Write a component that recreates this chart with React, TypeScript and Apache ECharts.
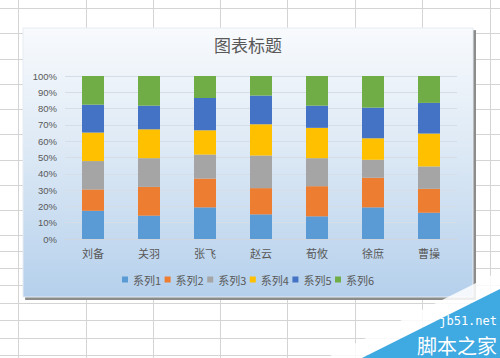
import React, { useEffect, useRef } from "react";
import * as echarts from "echarts";

const categories = ["刘备", "关羽", "张飞", "赵云", "荀攸", "徐庶", "曹操"];
const seriesNames = ["系列1", "系列2", "系列3", "系列4", "系列5", "系列6"];
const series1 = [17.3, 14.3, 19.4, 15.1, 13.9, 19.4, 16.1];
const series2 = [13.1, 17.7, 17.7, 16.1, 18.5, 18.2, 14.7];
const series3 = [17.4, 17.6, 14.7, 20.0, 17.2, 11.0, 13.7];
const series4 = [17.5, 17.7, 14.9, 19.2, 18.6, 13.2, 20.2];
const series5 = [17.1, 14.5, 19.8, 17.6, 13.6, 18.8, 18.8];
const series6 = [17.6, 18.2, 13.5, 12.0, 18.2, 19.4, 16.5];
const seriesValues = [series1, series2, series3, series4, series5, series6];
const colors = ["#5B9BD5", "#ED7D31", "#A5A5A5", "#FFC000", "#4472C4", "#70AD47"];

// Spreadsheet background decoration (layout only)
const sheetCols = [18, 86, 153, 220, 287, 355, 422, 490];
const sheetRows = [8, 33, 59, 84, 109, 134, 160, 185, 210, 235, 251, 268, 285, 303, 320, 338, 355];

export default function App() {
  const ref = useRef<HTMLDivElement>(null);
  useEffect(() => {
    if (!ref.current) return;
    const chart = echarts.init(ref.current, null, { renderer: "svg" });
    const textColor = "#595959";
    const bg: any[] = [];
    sheetCols.forEach((x) =>
      bg.push({ type: "line", z: -20, shape: { x1: x + 0.5, y1: 0, x2: x + 0.5, y2: 358 }, style: { stroke: "#d4d4d4", lineWidth: 1 } })
    );
    sheetRows.forEach((y) =>
      bg.push({ type: "line", z: -20, shape: { x1: 0, y1: y + 0.5, x2: 500, y2: y + 0.5 }, style: { stroke: "#d4d4d4", lineWidth: 1 } })
    );
    // chart box shadow + box
    bg.push({ type: "rect", z: -15, shape: { x: 25, y: 30, width: 451, height: 270 }, style: { fill: "#9a9a9a" } });
    bg.push({ type: "rect", z: -14, shape: { x: 26, y: 31, width: 450, height: 269 }, style: { fill: "#8c8c8c" } });
    bg.push({
      type: "rect",
      z: -12,
      shape: { x: 23, y: 28, width: 450, height: 269 },
      style: {
        fill: new echarts.graphic.LinearGradient(0, 0, 0, 1, [
          { offset: 0, color: "#f8fafd" },
          { offset: 0.45, color: "#dde9f5" },
          { offset: 1, color: "#b5d0ec" },
        ]),
        stroke: "#e6ebf1",
        lineWidth: 1,
      },
    });
    // watermark
    const wm: any[] = [
      { type: "polygon", z: 50, shape: { points: [[326, 358], [500, 271], [500, 289], [362, 358]] }, style: { fill: "rgba(255,255,255,0.85)" } },
      { type: "polygon", z: 51, shape: { points: [[362, 358], [500, 289], [500, 358]] }, style: { fill: "#3fa9e1" } },
      {
        type: "text", z: 52, x: 497, y: 321,
        style: { text: "jb51.net", fill: "#ffffff", font: "12px 'DejaVu Sans Mono', monospace", align: "right", verticalAlign: "middle" },
      },
      {
        type: "text", z: 52, x: 497, y: 345,
        style: { text: "脚本之家", fill: "#ffffff", font: "20px 'Noto Sans CJK SC', sans-serif", align: "right", verticalAlign: "middle" },
      },
    ];

    chart.setOption({
      animation: false,
      backgroundColor: "#ffffff",
      color: colors,
      graphic: { elements: [...bg, ...wm] },
      title: {
        text: "图表标题",
        left: 214,
        top: 36,
        padding: 0,
        textStyle: { color: textColor, fontSize: 17, fontWeight: "normal", fontFamily: "'Noto Sans CJK SC', sans-serif" },
      },
      legend: {
        data: seriesNames,
        left: 122,
        top: 274,
        padding: 0,
        itemWidth: 6,
        itemHeight: 6,
        itemGap: 3.5,
        icon: "rect",
        textStyle: { color: textColor, fontSize: 11, fontFamily: "'Noto Sans CJK SC', sans-serif" },
      },
      grid: { left: 65, right: 43, top: 76, bottom: 119, containLabel: false },
      xAxis: {
        type: "category",
        data: categories,
        axisLine: { lineStyle: { color: "#d0d6de" } },
        axisTick: { show: false },
        axisLabel: { color: textColor, fontSize: 11, margin: 8, fontFamily: "'Noto Sans CJK SC', sans-serif" },
      },
      yAxis: {
        type: "value",
        min: 0,
        max: 100,
        interval: 10,
        axisLine: { show: false },
        axisTick: { show: false },
        splitLine: { lineStyle: { color: "#d6dde6" } },
        axisLabel: { color: textColor, fontSize: 9.5, margin: 8, formatter: "{value}%", fontFamily: "'Liberation Sans', Arial, sans-serif" },
      },
      series: seriesNames.map((name, i) => ({
        name,
        type: "bar",
        stack: "total",
        barWidth: 22,
        data: seriesValues[i],
        itemStyle: { color: colors[i] },
      })),
    });
    return () => chart.dispose();
  }, []);
  return <div ref={ref} style={{ position: "fixed", left: 0, top: 0, width: 500, height: 358 }} />;
}
